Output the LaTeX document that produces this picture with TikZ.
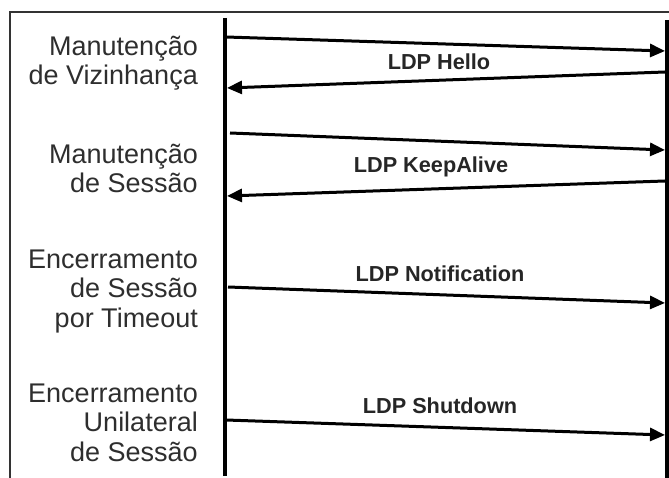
\documentclass[tikz,border=0pt]{standalone}
\usepackage{fontspec}
\setmainfont{Liberation Sans}
\usetikzlibrary{arrows.meta}
\begin{document}
\begin{tikzpicture}[x=1pt,y=1pt,
  lifeline/.style={line width=3.8pt,black},
  msg/.style={line width=3pt,black,-{Triangle[length=15pt,width=13pt]}},
  phase/.style={anchor=base east,align=right,inner sep=0pt,text=black!82,
    font=\fontsize{27}{29.5}\selectfont},
  msglabel/.style={anchor=base,inner sep=0pt,text=black!85,
    font=\fontsize{21.7}{24}\selectfont\bfseries}]
  \useasboundingbox (0,0) rectangle (669,-478);
  % frame
  \draw[line width=1.2pt,black!80] (669,-12) -- (10,-12) -- (10,-478);
  % lifelines
  \coordinate (Atop) at (225,-18);
  \coordinate (Abot) at (225,-476);
  \coordinate (Btop) at (667,-20);
  \coordinate (Bbot) at (667,-478);
  \draw[lifeline] (Atop) -- (Abot);
  \draw[lifeline] (Btop) -- (Bbot);
  % message end points
  \coordinate (h1a) at (226,-37);  \coordinate (h1b) at (665,-51);
  \coordinate (h2a) at (665,-72);  \coordinate (h2b) at (227,-88);
  \coordinate (k1a) at (230,-133); \coordinate (k1b) at (665,-150);
  \coordinate (k2a) at (665,-181); \coordinate (k2b) at (227,-196);
  \coordinate (n1a) at (228,-287); \coordinate (n1b) at (665,-303);
  \coordinate (s1a) at (226,-420); \coordinate (s1b) at (665,-435);
  \draw[msg] (h1a) -- (h1b);
  \draw[msg] (h2a) -- (h2b);
  \draw[msg] (k1a) -- (k1b);
  \draw[msg] (k2a) -- (k2b);
  \draw[msg] (n1a) -- (n1b);
  \draw[msg] (s1a) -- (s1b);
  % message labels
  \node[msglabel] (lh) at (439,-70)  {LDP Hello};
  \node[msglabel] (lk) at (431,-173) {LDP KeepAlive};
  \node[msglabel] (ln) at (440,-282) {LDP Notification};
  \node[msglabel] (ls) at (440,-413) {LDP Shutdown};
  % phase labels (anchored at the baseline of their last line)
  \node[phase] (p1) at (198,-85)  {Manutenção\\de Vizinhança};
  \node[phase] (p2) at (198,-193) {Manutenção\\de Sessão};
  \node[phase] (p3) at (198,-327) {Encerramento\\de Sessão\\por Timeout};
  \node[phase] (p4) at (198,-461) {Encerramento\\Unilateral\\de Sessão};
\end{tikzpicture}
\end{document}
